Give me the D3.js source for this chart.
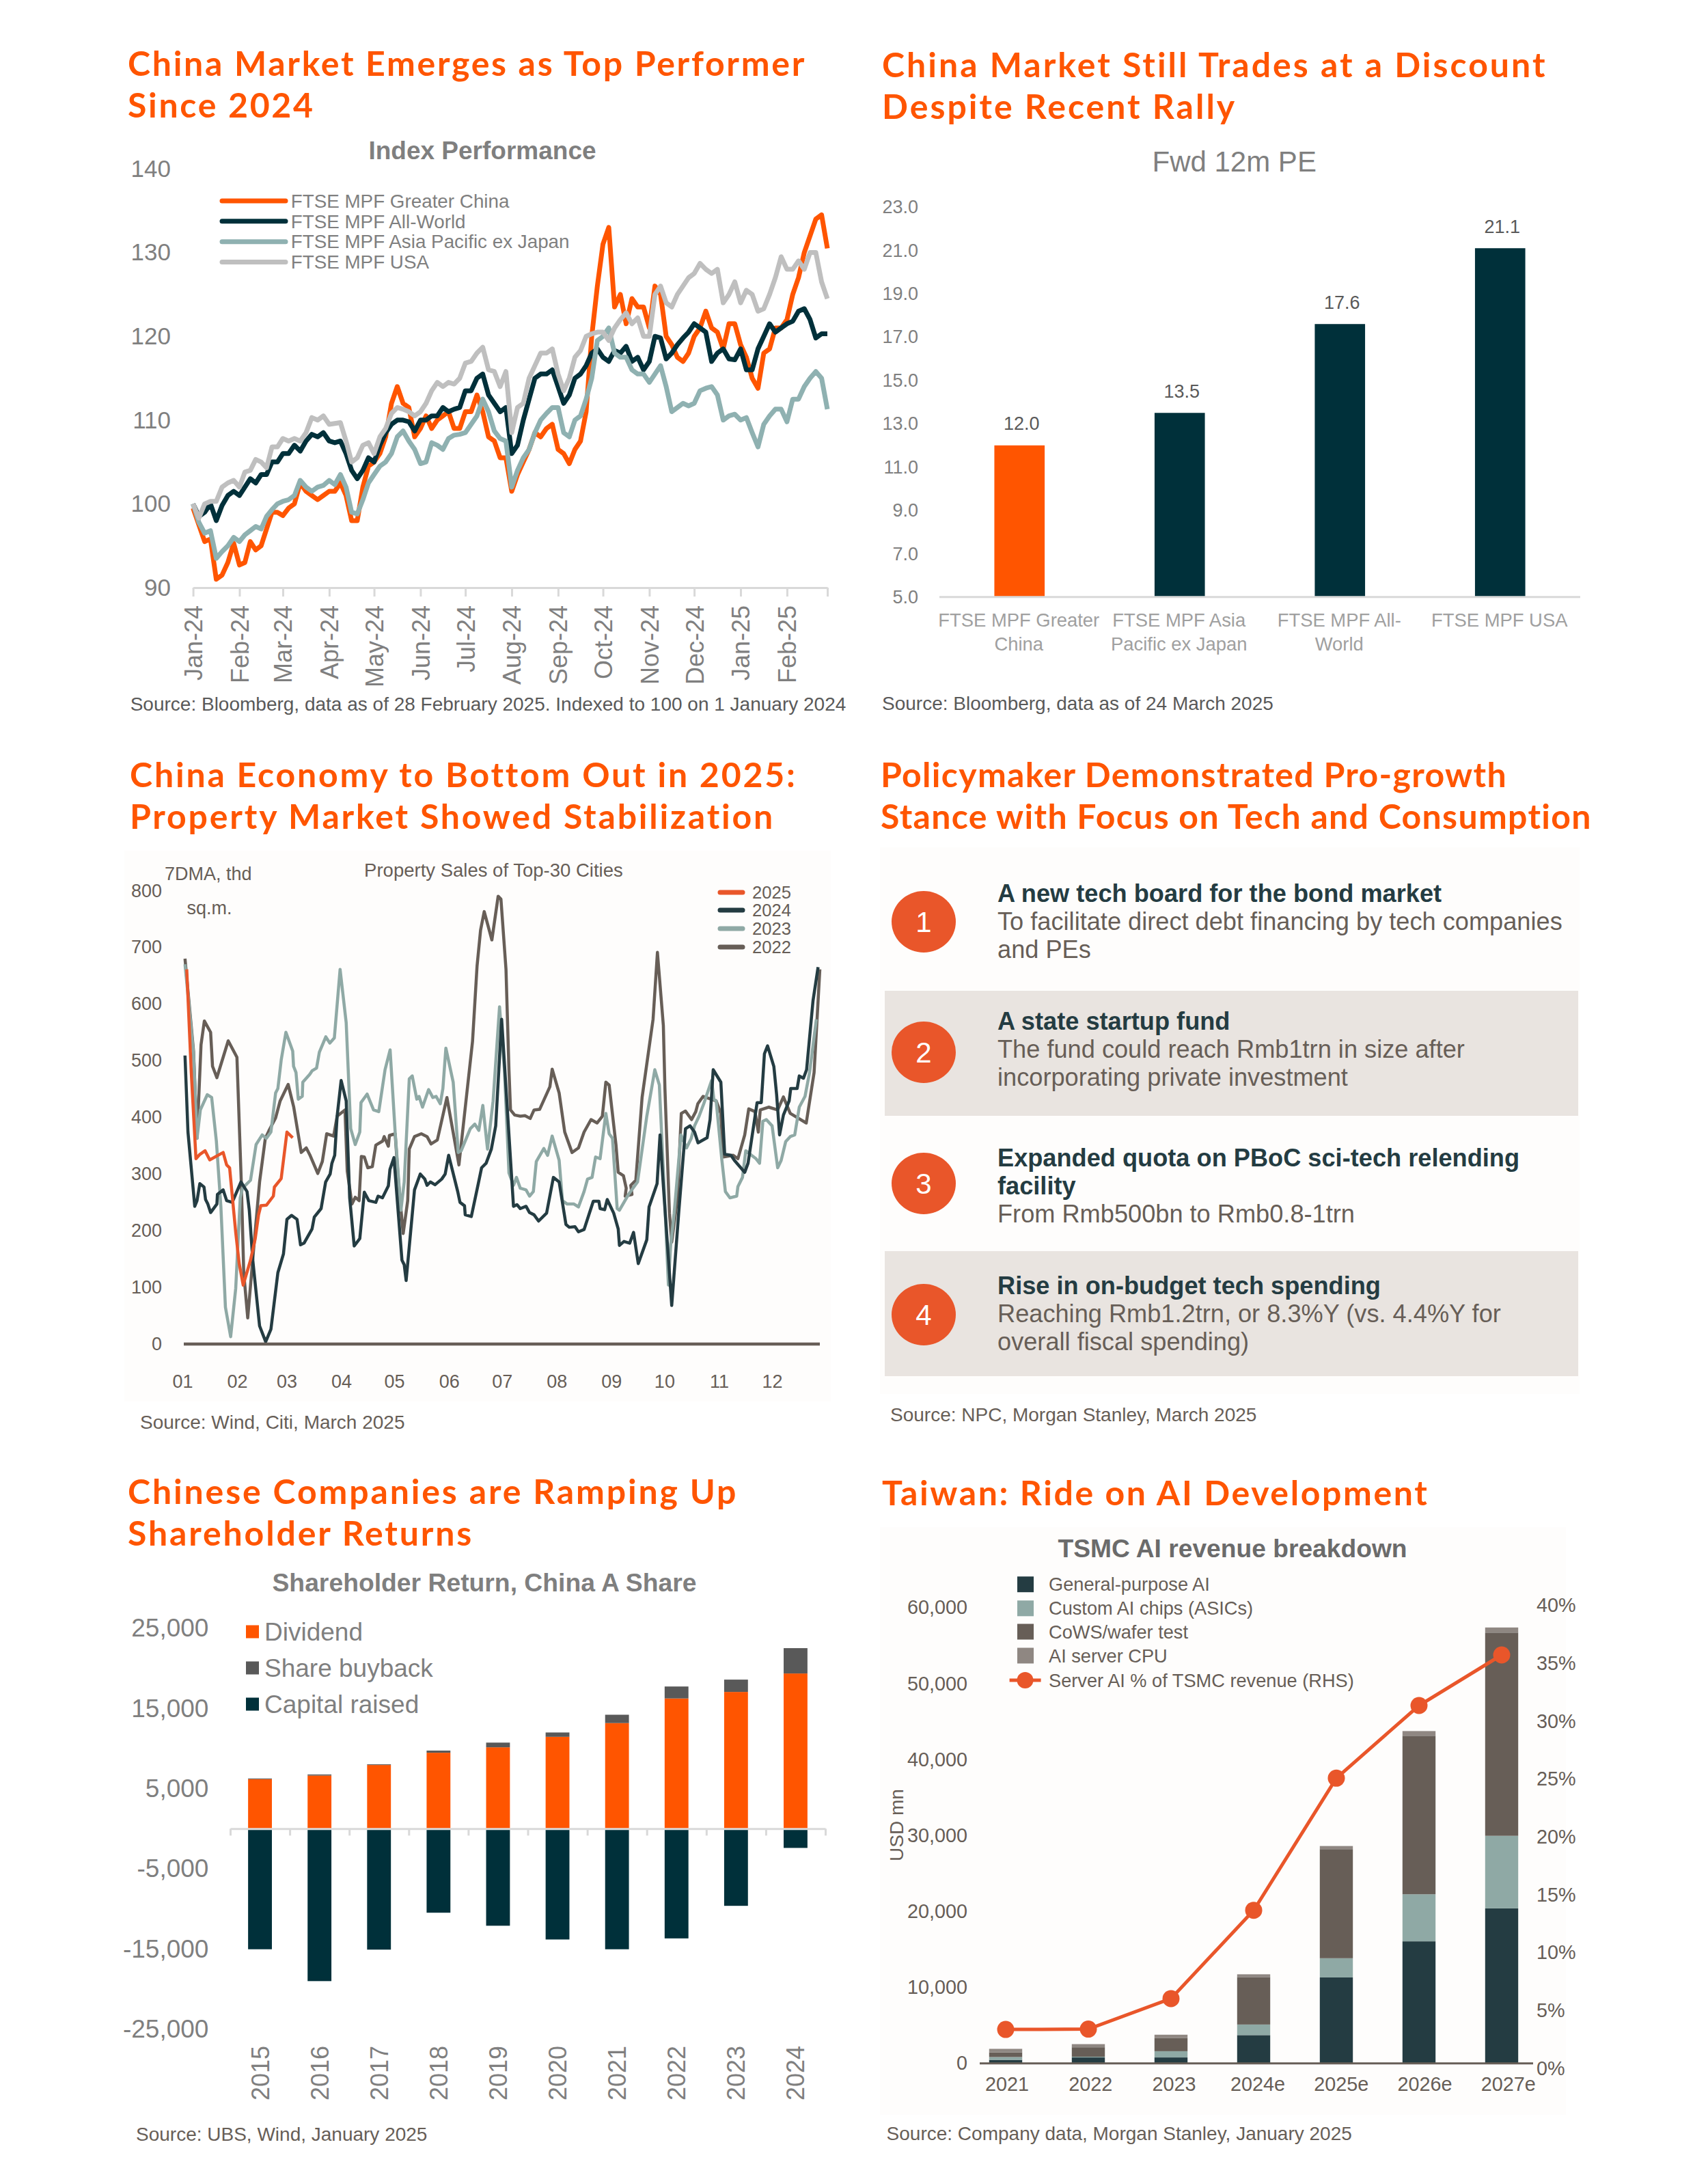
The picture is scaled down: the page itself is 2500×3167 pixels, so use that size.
<!DOCTYPE html>
<html><head><meta charset="utf-8">
<script src="https://cdn.jsdelivr.net/npm/d3@7"></script>
<style>html,body{margin:0;padding:0;background:#fff}svg{display:block}text{font-family:"Liberation Sans",Arial,sans-serif}.ttl{font-family:Lato,sans-serif;font-weight:700;fill:#FF5500}</style>
</head><body><svg id="c" width="2500" height="3167" viewBox="0 0 2500 3167"></svg>
<script>
// ---- Chart 1: Index performance (8 readings per month, Jan-24 .. Feb-25)
const perfGreaterChina=[99.5,97.5,95.5,95.8,91,91.5,93,95.3,
92.7,93,95.5,94.5,95,97,99,99,
98.6,99.5,100,102.5,101.5,101,100.5,101,
101.5,101.5,102.5,101,98,98,102,104.5,
105,106,108,112,114,112,111.5,108,
109,110.5,109,110,110.5,111,109,109,
111,111,113,111,108,107.5,105.5,105.5,
101.5,103.5,105,106.5,108.5,108,109,109.5,
106.5,106,104.8,106.5,107.5,111,120,126,
131,133,123.5,125,121.5,124.5,123.5,123.5,
121,126,125,120,119,117.5,117,118,
120,121,123,121,120.5,118.5,121.5,121.5,
119,117.5,115,113.8,118,118.5,121,121,
122,125,127,130,132,134,134.5,130.5];
const perfAllWorld=[100,98.5,99,100,98,99.8,101,101.5,
101,102,103,102.5,103.5,103.5,105,105,
106,106,107,106.3,107.5,108.3,108,108.5,
107.5,107.3,107.5,106,104,103,104,105.5,
105,107,108.5,109.5,110,110,109.8,108.7,
110,110,110.5,110.5,111.5,111,111.3,111.5,
113.5,113.5,115,115.5,113,112,111,111.5,
106,107,110,112.5,115,115.5,115.5,116,
114,112,113,115,115.5,116.5,118,118.5,
117.5,117,118.3,118,118.8,117,117.5,116,
117,120,119.8,117.3,118,119,119.8,120.5,
121.5,121,120.5,117,118,118.5,117.3,117.2,
118.5,116,116,118.5,120,121.5,120.5,121,
121.5,121.8,123,123.3,122,119.8,120.3,120.3];
const perfAsiaPac=[100,97.8,96.5,96.8,93.5,94.3,95,96,
95.5,96.3,96.8,97.3,97,98.5,99.3,100,
100.3,100.5,101,102.8,102,101.5,102,102.2,
102.8,102.3,103.5,102,99,98.8,100.5,102.5,
103.5,104.5,105,106,108,108.7,107.5,106.5,
104.8,105,107.3,107,106.5,107.8,108.2,108.3,
108.5,109.5,110.5,112.5,111,108.7,107.8,107.5,
102,104,105.5,106.5,108.5,110,110.8,111.5,
111.5,108.5,108,110,110.5,112.5,115,119.5,
120,121,118,117.5,117.5,116,115.5,115.5,
114.5,115.5,116.5,114,111,111.5,112,111.7,
112,113.5,113.8,114,113,110,110.5,110.7,
110,110.3,108.5,106.8,109.5,110.5,111.3,111.3,
109.8,112.5,112.5,114,115,115.8,115,111.3];
const perfUSA=[100,98.3,100,100.3,100.3,102,102.5,102.8,
102,103.8,104,105.3,105,104.3,106.8,106.8,
107.8,107.5,107.8,107.5,108.5,110.3,110,110.5,
109.5,109.6,109.7,107.5,105,105.5,107,107.3,
106,108,109,110.8,111.5,111.3,111,110.5,
111,112,113.5,114.5,114,114.5,114.3,115,
116.8,117,118,118.7,116,115.8,114,115.8,
108.5,111.5,112,115,116.5,118,118,118.5,
115.5,113.5,115,117.5,118.3,120,120.3,120.5,
120.5,119.5,121,122,122.8,121.5,122.2,120,
120,125,126,124,123.5,125,126,127,
127.5,128.7,128,127.5,128,124,125,126.5,
124,125.5,125,123,123.3,125,127,129.5,
128,128,129,128,130,130,126.5,124.5];
const perfNames=["FTSE MPF Greater China","FTSE MPF All-World","FTSE MPF Asia Pacific ex Japan","FTSE MPF USA"];
const perfTicks=[90,100,110,120,130,140];

// ---- Chart 2: Fwd PE
const peCategories=["FTSE MPF Greater|China","FTSE MPF Asia|Pacific ex Japan","FTSE MPF All-|World","FTSE MPF USA"];
const peValues=[12.0,13.5,17.6,21.1];
const peTicks=[5,7,9,11,13,15,17,19,21,23];

// ---- Chart 3: Property sales, [day of year, thousand sq.m.]
const prop2022=[[0.7,680],[5.6,517],[7.6,363],[9.9,528],[11.8,570],[15.4,550],[16.5,490],[19,470],[22.6,506],[25.5,535],[30.5,506],[33,286],[34.4,126],[36.7,46],[40.3,175],[43.5,286],[46.8,363],[48.8,376],[52.7,399],[55.3,429],[59.9,458],[63.1,418],[67.4,338],[70.3,346],[72.3,334],[76.9,301],[79.5,322],[82,371],[86,367],[88,402],[92.5,413],[93.8,305],[96.5,247],[98.4,259],[100.6,253],[101.9,331],[103.6,330],[105.6,311],[108.2,313],[110.2,351],[114.1,358],[115,366],[117.4,349],[118,368],[121.3,371],[123.2,286],[125.9,195],[128.5,253],[129.4,344],[132.4,366],[136.3,371],[139.6,366],[141.9,353],[145.5,360],[151,435],[157.9,316],[165.7,534],[168.3,667],[170.3,730],[172.4,763],[176.8,713],[180.4,790],[182,785],[184.9,661],[186.6,484],[187.5,413],[189.9,404],[193.1,402],[195.8,403],[198.8,398],[201,413],[204.2,414],[210.1,454],[211.4,485],[215.4,443],[218.6,374],[222.8,338],[226.5,346],[229.7,374],[233.7,396],[237.2,390],[240.2,402],[242.2,462],[244.1,457],[248,352],[249.3,303],[252.3,297],[253.9,275],[253.3,261],[257.2,264],[256.5,280],[259.4,289],[263,435],[269.3,573],[271.8,691],[275.2,562],[276.1,451],[278.7,231],[280,180],[283.3,258],[285.5,407],[287.9,411],[291.4,396],[293.8,410],[295,424],[298,437],[305.5,429],[308.2,407],[309.5,330],[315.3,333],[318,327],[321.9,369],[324.2,415],[327.8,410],[329.7,374],[330.8,413],[335.6,418],[340.8,413],[344.1,436],[348,407],[357.2,390],[361.7,479],[365,661]];
const prop2023=[[0.7,670],[2.4,617],[5.6,512],[7.6,363],[9.5,413],[13.5,440],[16,435],[18.7,358],[21.3,242],[23.9,65],[26.9,13],[29.8,98],[32.4,258],[33.7,275],[38.3,289],[41.5,352],[45,369],[47.4,363],[50,374],[52.7,443],[54,451],[55.9,501],[58.6,550],[62.5,517],[63,490],[64.4,479],[65.7,432],[68,437],[68.3,462],[72.3,476],[73.6,482],[76.2,487],[77.8,515],[81.5,542],[83.8,531],[86.4,540],[89.7,661],[93.2,567],[95.8,380],[98.4,352],[101,374],[101.7,426],[105.2,441],[108.9,413],[111.9,410],[115.5,484],[118.4,519],[121.3,374],[124.6,236],[126.5,286],[129.4,468],[131.1,473],[133.7,432],[135,437],[137,418],[140.5,449],[142.9,435],[144.8,437],[147.2,424],[148.7,451],[150.4,522],[154.6,462],[157.5,338],[159.2,341],[164.4,380],[167,388],[169.3,377],[171.6,421],[174.3,344],[177.5,429],[181.2,595],[184,484],[186.6,302],[189.2,280],[190.9,294],[193.1,275],[196.4,272],[198.4,261],[200.6,269],[202.3,322],[206.6,345],[208.8,333],[211.4,367],[215.4,324],[217.3,253],[220,247],[223.9,247],[226.5,242],[229.7,269],[231.7,291],[234.3,294],[236.3,330],[238.9,327],[242.2,407],[244.1,371],[246,363],[248.7,239],[250,236],[255.2,264],[260.4,286],[265.7,402],[270.3,484],[272.9,457],[275.5,286],[278.1,104],[279.4,175],[281.4,231],[285.3,369],[288.5,346],[291.2,363],[293.1,385],[295.7,402],[298.4,424],[302.9,465],[304.2,432],[305.5,429],[308.8,324],[310.8,269],[313.4,258],[317.3,261],[318,278],[320.6,294],[322.5,341],[325.8,333],[328.4,327],[330.4,319],[332.3,393],[334.3,396],[337.6,385],[340.8,311],[342.8,324],[345.4,357],[348,366],[350.6,369],[353.2,418],[356.5,437],[359.1,479],[363,573]];
const prop2024=[[0.7,509],[2.4,374],[6.3,243],[7.6,253],[9.2,283],[11.6,277],[12.5,255],[13.8,247],[15.4,232],[19,247],[19.3,264],[22.6,272],[24.6,253],[27.8,250],[32.8,286],[36.3,269],[37.6,236],[39.6,148],[43.5,32],[47,4],[50,26],[54,126],[57.2,159],[59.2,220],[61.8,227],[65,220],[67,175],[69,178],[73.6,203],[74.9,224],[78.8,239],[81.4,286],[84,300],[85,319],[86.6,333],[88,402],[90.3,465],[93.2,429],[95.2,258],[97.8,173],[101,186],[103.6,268],[106.2,253],[110.2,250],[111.5,261],[114,258],[117.4,279],[118.3,308],[120.6,329],[125.2,148],[126.5,140],[127.6,112],[132.4,272],[135.7,300],[138.3,291],[139.6,280],[141.5,286],[144.2,281],[148,291],[150,300],[152,333],[157.2,269],[158.5,250],[161.1,244],[161.5,228],[165,225],[169,283],[170.9,311],[173.5,319],[176.5,344],[179,385],[182.4,573],[189.2,243],[191.2,246],[193.1,239],[196.4,243],[198.4,232],[201,228],[203.6,217],[208.2,231],[212.1,294],[215.4,286],[219.3,211],[221.2,206],[224.5,207],[226.5,198],[229.7,202],[235,252],[238.2,252],[238.9,239],[241.5,237],[243,255],[246.7,231],[249.3,203],[250,174],[252.6,181],[255.9,178],[258.1,197],[260.8,142],[265.7,184],[267,242],[271.6,283],[273.3,369],[274.8,297],[280,68],[284,231],[287.9,380],[290.5,385],[293.1,374],[295.1,355],[300.3,364],[302,396],[303.8,484],[308.2,462],[310.4,335],[314,333],[316,324],[321.9,303],[323.8,319],[329,426],[331.4,426],[333.2,512],[335,526],[338.6,490],[340.2,440],[341.9,369],[344.1,404],[347.4,429],[348.3,451],[352,451],[353.2,473],[355.6,469],[357.4,484],[361.1,606],[364,665]];
const prop2025=[[1.7,661],[4.3,479],[7,327],[9,334],[12.2,341],[14.9,325],[22.6,338],[24.6,316],[26.3,311],[29.8,197],[31.8,142],[34.1,104],[38.3,148],[41,186],[42.9,228],[44.2,244],[47.4,245],[51.4,261],[52,277],[55.9,292],[59.2,374],[62.5,364]];
const propMonths=["01","02","03","04","05","06","07","08","09","10","11","12"];
const propMonthDays=[0,31,59,90,120,151,181,212,243,273,304,334];
const propYears=["2025","2024","2023","2022"];
const propTicks=[0,100,200,300,400,500,600,700,800];

// ---- Chart 4: text
const policyHeads=[["A new tech board for the bond market"],["A state startup fund"],["Expanded quota on PBoC sci-tech relending","facility"],["Rise in on-budget tech spending"]];
const policyBodies=[["To facilitate direct debt financing by tech companies","and PEs"],["The fund could reach Rmb1trn in size after","incorporating private investment"],["From Rmb500bn to Rmb0.8-1trn"],["Reaching Rmb1.2trn, or 8.3%Y (vs. 4.4%Y for","overall fiscal spending)"]];

// ---- Chart 5: Shareholder return
const shYears=["2015","2016","2017","2018","2019","2020","2021","2022","2023","2024"];
const shDividend=[6184,6635,7945,9480,10157,11466,13180,16250,17063,19365];
const shBuyback=[90,135,90,270,586,541,1039,1490,1537,3160];
const shCapital=[-15032,-19004,-15077,-10472,-12097,-13813,-15032,-13677,-9615,-2392];
const shTicks=[-25000,-15000,-5000,5000,15000,25000];
const shNames=["Dividend","Share buyback","Capital raised"];

// ---- Chart 6: TSMC
const tsYears=["2021","2022","2023","2024e","2025e","2026e","2027e"];
const tsGeneral=[460,775,775,3718,11309,16060,20398];
const tsCustom=[370,100,825,1394,2531,6197,9553];
const tsCowos=[620,1240,1757,6248,14355,20862,26749];
const tsCpu=[460,415,413,362,413,619,672];
const tsShare=[3.36,3.39,6.03,13.66,25.08,31.36,35.73];
const tsLeftTicks=[0,10000,20000,30000,40000,50000,60000];
const tsRightTicks=[0,5,10,15,20,25,30,35,40];
const tsNames=["General-purpose AI","Custom AI chips (ASICs)","CoWS/wafer test","AI server CPU","Server AI % of TSMC revenue (RHS)"];

const ORANGE="#FF5500",DEEP="#00303A",TEAL="#8FB1B1",LGRAY="#BFBFBF",GRAY="#7F7F7F",AXIS="#D9D9D9";
const RED="#E9562A",INK="#243C42",SAGE="#8FA9A5",TAUPE="#675E57",TAUPE2="#8F8782",PANEL="#FEFDFC";

const svg=d3.select("#c");
function txt(s,x,y,size,fill,opt={}){
  return svg.append("text").attr("x",x).attr("y",y).attr("dy",".35em").attr("font-size",size).attr("fill",fill)
    .attr("text-anchor",opt.anchor||"start").attr("font-weight",opt.weight||400).text(s);
}
function title(lines,x,ys,size,ls){
  lines.forEach((l,i)=>svg.append("text").attr("class","ttl").attr("x",x).attr("y",ys[i]).attr("dy",".35em")
    .attr("font-size",size).attr("letter-spacing",ls).text(l));
}
function styleAxis(g,size,fill,opts={}){
  g.selectAll("text").attr("font-size",size).attr("fill",fill).attr("font-family",'"Liberation Sans",Arial,sans-serif');
  if(opts.noDomain) g.select(".domain").remove();
  else g.select(".domain").attr("stroke",opts.stroke||AXIS).attr("stroke-width",opts.sw||3);
  g.selectAll(".tick line").attr("stroke",opts.stroke||AXIS).attr("stroke-width",opts.sw||3);
  if(opts.noTicks) g.selectAll(".tick line").remove();
}
const fmtHy=d=>d3.format(",")(d).replace("\u2212","-");
function rotateTicks(g,x){
  g.selectAll(".tick text").attr("transform","rotate(-90)").attr("text-anchor","end").attr("x",x).attr("y",0).attr("dy",".36em");
}

// ===== panels
svg.append("rect").attr("x",182).attr("y",1245).attr("width",1034).attr("height",806).attr("fill",PANEL);
svg.append("rect").attr("x",1288).attr("y",1240).attr("width",1024).attr("height",800).attr("fill",PANEL);
svg.append("rect").attr("x",1288).attr("y",2235).attr("width",1004).attr("height",860).attr("fill",PANEL);

// ===== Chart 1
title(["China Market Emerges as Top Performer","Since 2024"],187,[93,154],50,2.7);
txt("Index Performance",706,220,37,GRAY,{anchor:"middle",weight:700});
(function(){
  const x=d3.scaleTime().domain([new Date(2024,0,1),new Date(2025,1,28)]).range([282.6,1211]);
  const y=d3.scaleLinear().domain([90,140]).range([860,247]);
  const dateAt=i=>{const m=Math.floor(i/8),k=i%8,a=+new Date(2024,m,1);
    const b=m===13?+new Date(2025,1,28):+new Date(2024,m+1,1);
    return new Date(a+(b-a)*(m===13?k/7:k/8));};
  const line=d3.line().x((d,i)=>x(dateAt(i))).y(d=>y(d));
  const months=d3.range(14).map(m=>new Date(2024,m,1)).concat([new Date(2025,1,28)]);
  const gx=svg.append("g").attr("transform","translate(0,860)").call(d3.axisBottom(x).tickValues(months).tickSize(13).tickSizeOuter(0).tickFormat((d,i)=>i<14?d3.timeFormat("%b-%y")(d):""));
  styleAxis(gx,36,GRAY); rotateTicks(gx,-26);
  const gy=svg.append("g").attr("transform","translate(250,0)").call(d3.axisLeft(y).tickValues(perfTicks).tickSize(0).tickPadding(0));
  styleAxis(gy,35,GRAY,{noDomain:true,noTicks:true});
  [[perfGreaterChina,ORANGE],[perfAllWorld,DEEP],[perfAsiaPac,TEAL],[perfUSA,LGRAY]].forEach(([s,c])=>{
    svg.append("path").datum(s).attr("fill","none").attr("stroke",c).attr("stroke-width",7).attr("stroke-linejoin","round").attr("d",line);
  });
  const ly=d3.scalePoint().domain(perfNames).range([294,383.5]);
  const cs=[ORANGE,DEEP,TEAL,LGRAY];
  perfNames.forEach((n,i)=>{
    svg.append("line").attr("x1",325).attr("x2",418).attr("y1",ly(n)).attr("y2",ly(n)).attr("stroke",cs[i]).attr("stroke-width",7).attr("stroke-linecap","round");
    txt(n,425.7,ly(n),27.8,GRAY);
  });
})();
txt("Source: Bloomberg, data as of 28 February 2025. Indexed to 100 on 1 January 2024",190.7,1030,28,"#595959");

// ===== Chart 2
title(["China Market Still Trades at a Discount","Despite Recent Rally"],1291,[95,156],50,3);
txt("Fwd 12m PE",1806.7,236.7,42,GRAY,{anchor:"middle"});
(function(){
  const x=d3.scaleBand().domain(peCategories).range([1375,2313]).paddingInner(0.686).paddingOuter(0.343);
  const y=d3.scaleLinear().domain([5,23]).range([873.8,303]);
  const gy=svg.append("g").attr("transform","translate(1344,0)").call(d3.axisLeft(y).tickValues(peTicks).tickSize(0).tickPadding(0).tickFormat(d3.format(".1f")));
  styleAxis(gy,27,GRAY,{noDomain:true,noTicks:true});
  svg.selectAll(".pe").data(peValues).join("rect").attr("class","pe").attr("x",(d,i)=>x(peCategories[i])).attr("width",x.bandwidth())
    .attr("y",d=>y(d)).attr("height",d=>y(5)-y(d)).attr("fill",(d,i)=>i===0?ORANGE:DEEP);
  svg.selectAll(".pel").data(peValues).join("text").attr("class","pel").attr("x",(d,i)=>x(peCategories[i])+x.bandwidth()/2+3).attr("y",d=>y(d)-32).attr("dy",".35em")
    .attr("text-anchor","middle").attr("font-size",27).attr("fill","#595959").text(d=>d.toFixed(1));
  const gx=svg.append("g").attr("transform","translate(0,873.8)").call(d3.axisBottom(x).tickSize(0).tickSizeOuter(0).tickFormat(""));
  gx.select(".domain").attr("d","M1375,0H2313").attr("stroke",AXIS).attr("stroke-width",3);
  gx.selectAll(".tick").each(function(d){
    const t=d3.select(this).select("text").attr("font-size",27.4).attr("fill","#A0A0A0").attr("y",0).attr("dy",0);
    d.split("|").forEach((l,i)=>t.append("tspan").attr("x",-1).attr("y",34+i*35+9).text(l));
  });
})();
txt("Source: Bloomberg, data as of 24 March 2025",1291,1029,28,"#595959");

// ===== Chart 3
title(["China Economy to Bottom Out in 2025:","Property Market Showed Stabilization"],190,[1134,1195],50,2.8);
txt("Property Sales of Top-30 Cities",722.4,1273,27.5,TAUPE,{anchor:"middle"});
txt("7DMA, thd",241,1279,27,TAUPE);
txt("sq.m.",273.5,1328.6,27,TAUPE);
(function(){
  const x=d3.scaleLinear().domain([0,365]).range([269,1200]);
  const xt=d3.scaleLinear().domain([0,334]).range([267,1130]);
  const y=d3.scaleLinear().domain([0,800]).range([1967,1303.4]);
  const gy=svg.append("g").attr("transform","translate(237,0)").call(d3.axisLeft(y).tickValues(propTicks).tickSize(0).tickPadding(0));
  styleAxis(gy,27,TAUPE,{noDomain:true,noTicks:true});
  const gx=svg.append("g").attr("transform","translate(0,2022)").call(d3.axisBottom(xt).tickValues(propMonthDays).tickSize(0).tickPadding(0).tickFormat((d,i)=>propMonths[i]));
  styleAxis(gx,27,TAUPE,{noDomain:true,noTicks:true});
  gx.selectAll(".tick text").attr("dy",".35em");
  const line=d3.line().x(d=>x(d[0])).y(d=>y(d[1]));
  [[prop2022,TAUPE],[prop2023,SAGE],[prop2024,INK],[prop2025,RED]].forEach(([s,c])=>{
    svg.append("path").datum(s).attr("fill","none").attr("stroke",c).attr("stroke-width",4.5).attr("stroke-linejoin","round").attr("d",line);
  });
  svg.append("line").attr("x1",x(0)).attr("x2",x(365)).attr("y1",y(0)).attr("y2",y(0)).attr("stroke",TAUPE).attr("stroke-width",4.5);
  const ly=[1306,1332,1359,1386],lc=[RED,INK,SAGE,TAUPE];
  propYears.forEach((n,i)=>{
    svg.append("line").attr("x1",1054).attr("x2",1087).attr("y1",ly[i]).attr("y2",ly[i]).attr("stroke",lc[i]).attr("stroke-width",7).attr("stroke-linecap","round");
    txt(n,1101,ly[i],25.6,TAUPE);
  });
})();
txt("Source: Wind, Citi, March 2025",205,2081,28,TAUPE);

// ===== Chart 4
title(["Policymaker Demonstrated Pro-growth","Stance with Focus on Tech and Consumption"],1289,[1134,1195],50,1.3);
(function(){
  const bands=[[1450,1633],[1831,2014]];
  bands.forEach(b=>svg.append("rect").attr("x",1295).attr("y",b[0]).attr("width",1015).attr("height",b[1]-b[0]).attr("fill","#E9E4E0"));
  const cy=[1349,1540,1732,1924], firstY=[1307,1494,1694,1881];
  cy.forEach((c,i)=>{
    svg.append("ellipse").attr("cx",1352).attr("cy",c).attr("rx",47).attr("ry",45).attr("fill",RED);
    txt(String(i+1),1352,c,42,"#fff",{anchor:"middle"});
    let yy=firstY[i];
    policyHeads[i].forEach(l=>{txt(l,1460,yy,36.2,INK,{weight:700});yy+=41;});
    policyBodies[i].forEach(l=>{txt(l,1460,yy,36.2,TAUPE);yy+=41;});
  });
})();
txt("Source: NPC, Morgan Stanley, March 2025",1303,2070.6,28,TAUPE);

// ===== Chart 5
title(["Chinese Companies are Ramping Up","Shareholder Returns"],187,[2183,2244],50,2.85);
txt("Shareholder Return, China A Share",709,2316,37.3,GRAY,{anchor:"middle",weight:700});
(function(){
  const x=d3.scaleBand().domain(shYears).range([337,1208]).paddingInner(0.6).paddingOuter(0.3);
  const y=d3.scaleLinear().domain([-25000,25000]).range([2969.7,2383]);
  const gy=svg.append("g").attr("transform","translate(305.4,0)").call(d3.axisLeft(y).tickValues(shTicks).tickSize(0).tickPadding(0).tickFormat(fmtHy));
  styleAxis(gy,37,GRAY,{noDomain:true,noTicks:true});
  const bars=(sel,get,base,c)=>svg.selectAll("."+sel).data(shYears).join("rect").attr("class",sel).attr("x",d=>x(d)).attr("width",x.bandwidth())
     .attr("y",(d,i)=>Math.min(y(base(i)),y(base(i)+get(i)))).attr("height",(d,i)=>Math.abs(y(base(i))-y(base(i)+get(i)))).attr("fill",c);
  bars("shd",i=>shDividend[i],i=>0,ORANGE);
  bars("shb",i=>shBuyback[i],i=>shDividend[i],"#595959");
  bars("shc",i=>shCapital[i],i=>0,DEEP);
  const edges=d3.scaleLinear().domain([0,10]).range([337,1208]);
  const ga=svg.append("g").attr("transform","translate(0,"+y(0)+")").call(d3.axisBottom(edges).tickValues(d3.range(11)).tickSize(10).tickSizeOuter(0).tickFormat(""));
  styleAxis(ga,10,GRAY);
  const gl=svg.append("g").attr("transform","translate(0,2994)").call(d3.axisBottom(x).tickSize(0).tickSizeOuter(0));
  gl.select(".domain").remove();
  gl.selectAll(".tick text").attr("font-size",36).attr("fill",GRAY).attr("font-family",'"Liberation Sans",Arial,sans-serif');
  rotateTicks(gl,0);
  const ly=[2388,2441,2494],lc=[ORANGE,"#595959",DEEP];
  shNames.forEach((n,i)=>{
    svg.append("rect").attr("x",360).attr("y",ly[i]-9.5).attr("width",19).attr("height",19).attr("fill",lc[i]);
    txt(n,387,ly[i],37,GRAY);
  });
})();
txt("Source: UBS, Wind, January 2025",199,3123,28,TAUPE);

// ===== Chart 6
title(["Taiwan: Ride on AI Development"],1291,[2185],50,2.6);
txt("TSMC AI revenue breakdown",1804,2266,37.2,"#6B6B6B",{anchor:"middle",weight:700});
(function(){
  const x=d3.scaleBand().domain(tsYears).range([1411.5,2258.5]).paddingInner(0.6).paddingOuter(0.3);
  const y=d3.scaleLinear().domain([0,60000]).range([3019.7,2352.6]);
  const yr=d3.scaleLinear().domain([0,40]).range([3027,2349.7]);
  const gy=svg.append("g").attr("transform","translate(1416,0)").call(d3.axisLeft(y).tickValues(tsLeftTicks).tickSize(0).tickPadding(0).tickFormat(d3.format(",")));
  styleAxis(gy,28.8,TAUPE,{noDomain:true,noTicks:true});
  const gr=svg.append("g").attr("transform","translate(2249,0)").call(d3.axisRight(yr).tickValues(tsRightTicks).tickSize(0).tickPadding(0).tickFormat(d=>d+"%"));
  styleAxis(gr,28.8,TAUPE,{noDomain:true,noTicks:true});
  const stack=d3.stack().keys([0,1,2,3]).value((d,k)=>d[k])(tsYears.map((_,i)=>[tsGeneral[i],tsCustom[i],tsCowos[i],tsCpu[i]]));
  const cs=[INK,SAGE,TAUPE,TAUPE2];
  stack.forEach((s,k)=>{
    svg.selectAll(".ts"+k).data(s).join("rect").attr("class","ts"+k).attr("x",(d,i)=>x(tsYears[i])).attr("width",x.bandwidth())
      .attr("y",d=>y(d[1])).attr("height",d=>y(d[0])-y(d[1])).attr("fill",cs[k]);
  });
  const gx=svg.append("g").attr("transform","translate(0,3019.7)").call(d3.axisBottom(x).tickSize(0).tickSizeOuter(0).tickPadding(0));
  gx.select(".domain").attr("d","M1434,0H2244").attr("stroke",TAUPE).attr("stroke-width",3);
  gx.selectAll(".tick text").attr("font-size",28.8).attr("fill",TAUPE).attr("font-family",'"Liberation Sans",Arial,sans-serif').attr("x",(d,i)=>2+i*1.3).attr("y",30).attr("dy",".35em");
  const cx=i=>x(tsYears[i])+x.bandwidth()/2;
  svg.append("path").datum(tsShare).attr("fill","none").attr("stroke",RED).attr("stroke-width",5).attr("d",d3.line().x((d,i)=>cx(i)).y(d=>yr(d)));
  svg.selectAll(".tsm").data(tsShare).join("circle").attr("class","tsm").attr("cx",(d,i)=>cx(i)).attr("cy",d=>yr(d)).attr("r",12.5).attr("fill",RED);
  const ly=[2318.7,2353.8,2388,2423,2459];
  tsNames.forEach((n,i)=>{
    if(i<4) svg.append("rect").attr("x",1489).attr("y",ly[i]-11.5).attr("width",24).attr("height",23).attr("fill",cs[i]);
    else{
      svg.append("line").attr("x1",1477.6).attr("x2",1523.6).attr("y1",ly[i]).attr("y2",ly[i]).attr("stroke",RED).attr("stroke-width",5);
      svg.append("circle").attr("cx",1500.5).attr("cy",ly[i]).attr("r",12).attr("fill",RED);
    }
    txt(n,1535,ly[i],27.2,TAUPE);
  });
  svg.append("text").attr("transform","translate(1312,2671) rotate(-90)").attr("dy",".35em").attr("text-anchor","middle").attr("font-size",28).attr("fill",TAUPE).text("USD mn");
})();
txt("Source: Company data, Morgan Stanley, January 2025",1297.6,3122,28,TAUPE);
</script></body></html>
